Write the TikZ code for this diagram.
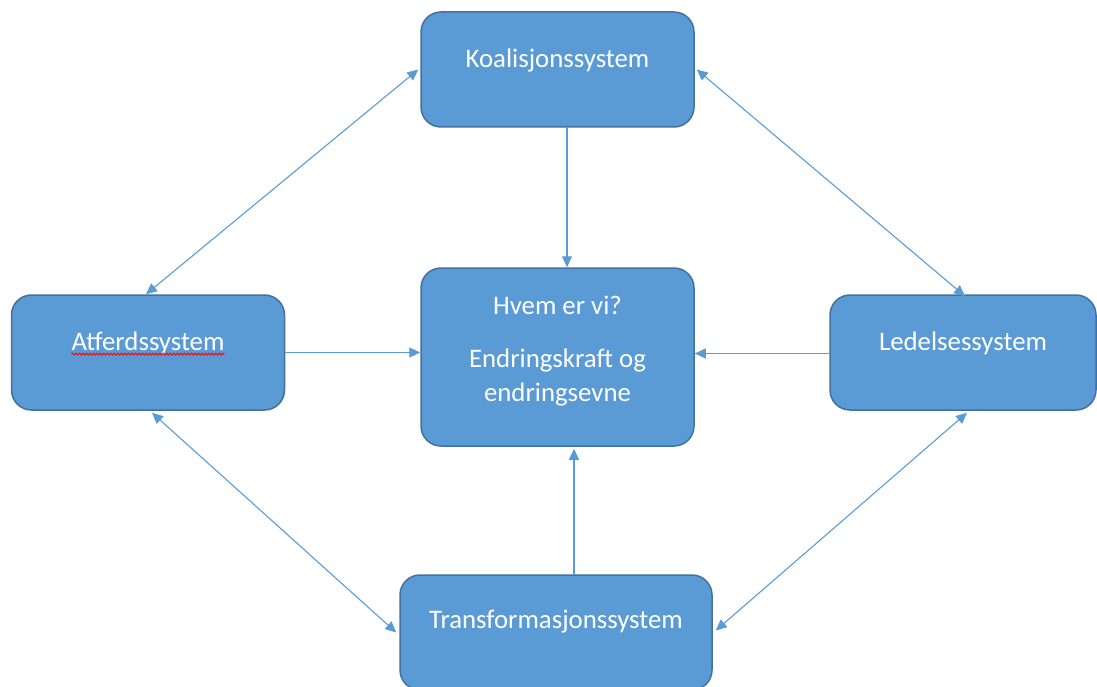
\documentclass[tikz,border=0pt]{standalone}
\usepackage{fontspec}
\setmainfont{Carlito}
\usetikzlibrary{arrows.meta,calc,decorations.pathmorphing}
\definecolor{boxfill}{HTML}{5B9BD5}
\definecolor{boxline}{HTML}{41719C}
\definecolor{linkcol}{HTML}{5B9BD5}
\tikzset{
  sysbox/.style={draw=boxline, line width=1.5pt, fill=boxfill, rounded corners=20pt,
    inner sep=0pt, minimum width=#1},
  sysbox/.default=273pt,
  boxtext/.style={text=white, font=\fontsize{26.8}{32}\selectfont, inner sep=0pt},
  link/.style={draw=linkcol, line width=1.1pt},
  both/.style={link, {Triangle[length=11pt,width=10pt]}-{Triangle[length=11pt,width=10pt]}},
  one/.style={link, -{Triangle[length=11pt,width=10pt]}},
}
\begin{document}
\begin{tikzpicture}[x=1pt, y=-1pt]
\useasboundingbox (0,0) rectangle (1097,687);

% system boxes
\node[sysbox, minimum height=115pt] (koal) at (557.5,69.5) {};
\node[sysbox, minimum height=178pt] (core) at (557.5,357) {};
\node[sysbox, minimum height=115pt] (atf) at (148,352.5) {};
\node[sysbox, minimum width=266pt, minimum height=115pt] (led) at (963,352.5) {};
\node[sysbox, minimum width=312pt, minimum height=115pt] (trans) at (556,632.5) {};

% labels
\node[boxtext] (koalT) at ($(koal.center)+(0,-9.5)$) {Koalisjonssystem};
\node[boxtext] (atfT) at ($(atf.center)+(0,-9.5)$) {Atferdssystem};
\node[boxtext] (ledT) at ($(led.center)+(0,-9.5)$) {Ledelsessystem};
\node[boxtext] (transT) at ($(trans.center)+(0,-10.5)$) {Transformasjonssystem};
\node[boxtext] (coreA) at (557.5,305) {Hvem er vi?};
\node[boxtext] (coreB) at (557.5,360) {Endringskraft og};
\node[boxtext] (coreC) at (557.5,394) {endringsevne};

% spelling marker under the behaviour label
\draw[red, line width=0.9pt, decorate, decoration={snake, amplitude=1pt, segment length=3.5pt}]
  ($(atfT.base west)+(0,4)$) -- ($(atfT.base east)+(0,4)$);

% two-way links round the ring
\draw[both] ($(koal.west)+(-2,0)$) -- ($(atf.north)+(-2,0)$);
\draw[both] ($(koal.east)+(2,0)$) -- ($(led.north)+(2,2)$);
\draw[both] ($(atf.south)+(4,2)$) -- ($(trans.west)+(-3,0)$);
\draw[both] ($(led.south)+(4,2)$) -- ($(trans.east)+(3,-2)$);

% links into the core
\coordinate (kOut) at (567,127);
\coordinate (tOut) at (574,575);
\draw[one] (kOut) -- (kOut |- core.north);
\draw[one] (tOut) -- ($(tOut |- core.south)+(0,2)$);
\draw[one] (atf.east) -- (atf.east -| core.west);
\draw[one] ($(led.west)+(0,1)$) -- ($(led.west -| core.east)+(0,1)$);
\end{tikzpicture}
\end{document}
